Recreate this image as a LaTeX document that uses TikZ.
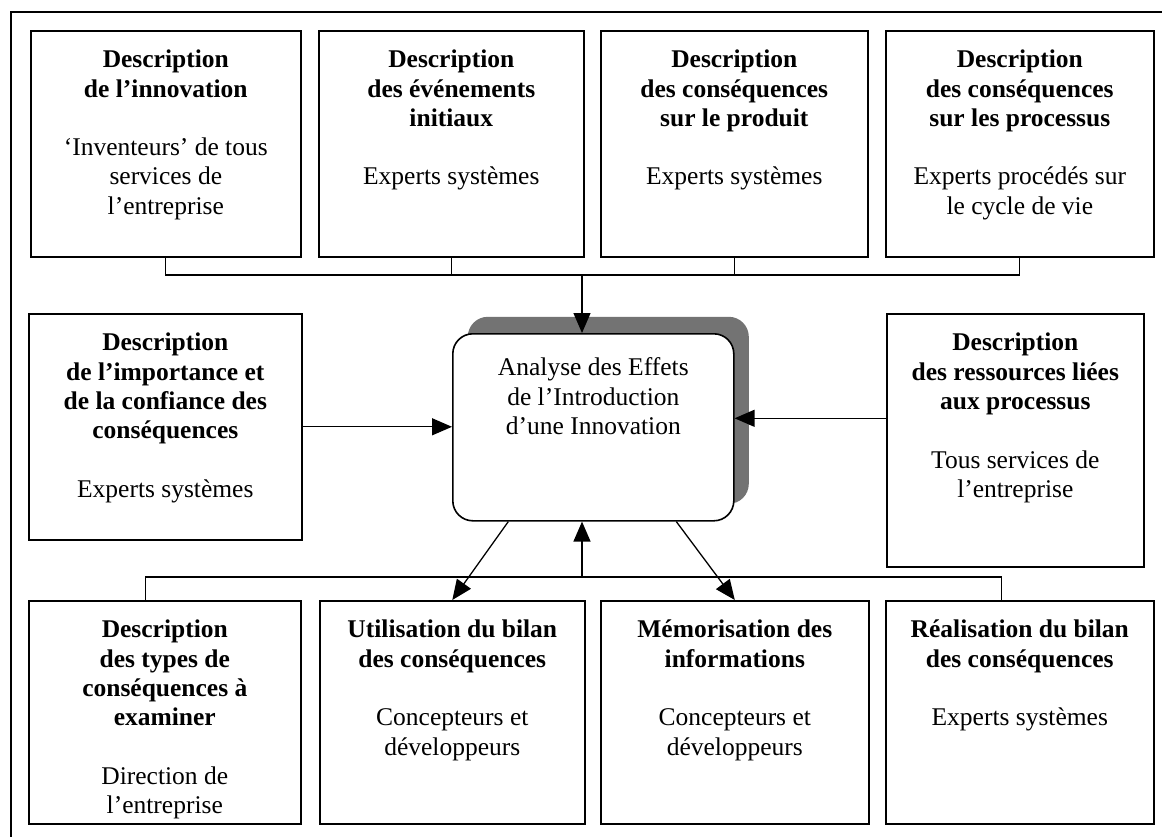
\documentclass[tikz,border=0pt]{standalone}
\usepackage{fontspec}
\setmainfont{Liberation Serif}
\usetikzlibrary{arrows.meta,shadows}
\newcommand{\contenu}[3]{\parbox[c][#2][t]{#1}{\centering\rule{0pt}{37pt}#3}}

\begin{document}
\begin{tikzpicture}[x=1pt,y=-1pt]
\tikzset{boite/.style={draw, line width=1.6pt, inner sep=0pt, anchor=north west, font=\fontsize{25.5}{29.3}\selectfont},
  lien/.style={line width=1.3pt},
  fleche/.style={line width=1.3pt, -{Triangle[length=20pt,width=17pt]}}}
\useasboundingbox (0,0) rectangle (1162,837);
\draw[lien] (11,850) -- (11,12) -- (1175,12);
% rangee du haut
\node[boite] (H1) at (30,30) {\contenu{270pt}{226pt}{\textbf{Description\\ de l'innovation}\\[29.3pt] `Inventeurs' de tous\\ services de\\ l'entreprise}};
\node[boite] (H2) at (318,30) {\contenu{265pt}{226pt}{\textbf{Description\\ des événements\\ initiaux}\\[29.3pt] Experts systèmes}};
\node[boite] (H3) at (600,30) {\contenu{267pt}{226pt}{\textbf{Description\\ des conséquences\\ sur le produit}\\[29.3pt] Experts systèmes}};
\node[boite] (H4) at (885,30) {\contenu{268pt}{226pt}{\textbf{Description\\ des conséquences\\ sur les processus}\\[29.3pt] Experts procédés sur\\ le cycle de vie}};
% milieu
\node[boite] (M1) at (28,313) {\contenu{273pt}{226pt}{\textbf{Description\\ de l'importance et\\ de la confiance des\\ conséquences}\\[29.3pt] Experts systèmes}};
\node[boite] (M2) at (886,313) {\contenu{257pt}{253pt}{\textbf{Description\\ des ressources liées\\ aux processus}\\[29.3pt] Tous services de\\ l'entreprise}};
\node[boite, rounded corners=20pt, fill=white,
  drop shadow={shadow xshift=15pt, shadow yshift=17pt, fill=black!55, opacity=1}] (AEII) at (452,333)
  {\parbox[c][187pt][t]{281pt}{\centering\rule{0pt}{42pt}Analyse des Effets\\ de l'Introduction\\ d'une Innovation}};
% rangee du bas
\node[boite] (B1) at (28,600) {\contenu{272pt}{223pt}{\textbf{Description\\ des types de\\ conséquences à\\ examiner}\\[29.3pt] Direction de\\ l'entreprise}};
\node[boite] (B2) at (319,600) {\contenu{265pt}{223pt}{\textbf{Utilisation du bilan\\ des conséquences}\\[29.3pt] Concepteurs et\\ développeurs}};
\node[boite] (B3) at (600,600) {\contenu{268pt}{223pt}{\textbf{Mémorisation des\\ informations}\\[29.3pt] Concepteurs et\\ développeurs}};
\node[boite] (B4) at (885,600) {\contenu{268pt}{223pt}{\textbf{Réalisation du bilan\\ des conséquences}\\[29.3pt] Experts systèmes}};
\coordinate (busH) at (582,275);
\coordinate (busB) at (582,577);
\draw[lien] (H1.south) |- (busH) -| (H4.south);
\draw[lien] (H2.south) -- (H2.south |- busH);
\draw[lien] (H3.south) -- (H3.south |- busH);
\draw[fleche] (busH) -- (busH |- AEII.north);
\draw[fleche] (M1.east) -- (M1.east -| AEII.west);
\draw[fleche] ([yshift=22pt]M2.west) -- ([yshift=22pt]M2.west -| AEII.east);
\draw[lien] ([xshift=-19pt]B1.north) |- (busB) -| ([xshift=-18pt]B4.north);
\draw[fleche] (busB) -- (busB |- AEII.south);
\draw[fleche] ([xshift=-85pt]AEII.south) -- (B2.north);
\draw[fleche] ([xshift=83pt]AEII.south) -- (B3.north);
\end{tikzpicture}
\end{document}
